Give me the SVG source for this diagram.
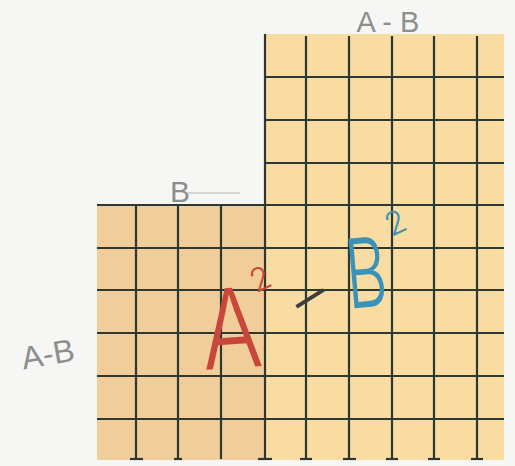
<svg xmlns="http://www.w3.org/2000/svg" width="515" height="466" viewBox="0 0 515 466">
<style>
.grid line{stroke:#2e3833;stroke-width:2.2;stroke-linecap:butt}
.pencil{font-family:"Liberation Sans",Arial,sans-serif;fill:#8c8f8e}
.hand{font-family:Inter,"Liberation Sans",sans-serif;font-weight:300}
</style>
<rect width="515" height="466" fill="#f6f6f4"/>
<g id="paper">
<path d="M97,204 H265 V34 H504 V460 H97 Z" fill="#f8dca2"/>
<rect x="97" y="204" width="168" height="256" fill="#f1ce99"/>
</g>
<g id="grid" class="grid">
<line x1="97" y1="205" x2="504" y2="205"/>
<line x1="97" y1="248" x2="504" y2="248"/>
<line x1="97" y1="290" x2="504" y2="290"/>
<line x1="97" y1="333" x2="504" y2="333"/>
<line x1="97" y1="376" x2="504" y2="376"/>
<line x1="97" y1="419" x2="504" y2="419"/>
<line x1="265" y1="77" x2="504" y2="77"/>
<line x1="265" y1="120" x2="504" y2="120"/>
<line x1="265" y1="163" x2="504" y2="163"/>
<line x1="136" y1="205" x2="136" y2="459"/>
<line x1="178" y1="205" x2="178" y2="459"/>
<line x1="221" y1="205" x2="221" y2="459"/>
<line x1="265" y1="34" x2="265" y2="459"/>
<line x1="306" y1="36" x2="306" y2="459"/>
<line x1="349" y1="36" x2="349" y2="459"/>
<line x1="392" y1="36" x2="392" y2="459"/>
<line x1="434" y1="36" x2="434" y2="459"/>
<line x1="477" y1="36" x2="477" y2="459"/>
<line x1="130" y1="459" x2="143" y2="459"/>
<line x1="174" y1="459" x2="182" y2="459"/>
<line x1="258" y1="459" x2="272" y2="459"/>
<line x1="300" y1="459" x2="312" y2="459"/>
<line x1="343" y1="459" x2="356" y2="459"/>
<line x1="386" y1="459" x2="398" y2="459"/>
<line x1="428" y1="459" x2="440" y2="459"/>
<line x1="471" y1="459" x2="483" y2="459"/>
</g>
<g id="labels">
<text class="pencil" x="388" y="32" font-size="29" text-anchor="middle">A - B</text>
<text class="pencil" x="180" y="202" font-size="30" text-anchor="middle">B</text>
<line x1="188" y1="193" x2="240" y2="193" stroke="#b5b5b5" stroke-width="1.2"/>
<text class="pencil" x="48" y="365" font-size="32" text-anchor="middle" transform="rotate(-10 48 355)">A-B</text>
</g>
<g id="formula">
<text class="hand" x="0" y="0" font-size="110" fill="#c8473a" text-anchor="middle" transform="translate(234 368) rotate(-4) scale(0.82 1)">A</text>
<text class="hand" x="261" y="290" font-size="32" fill="#c8473a" text-anchor="middle" transform="rotate(-25 261 280)">2</text>
<text class="hand" x="311" y="318" font-size="64" fill="#3a3f3a" text-anchor="middle" transform="rotate(-32 311 300)">–</text>
<text class="hand" x="0" y="0" font-size="96" fill="#3b92b8" text-anchor="middle" transform="translate(369 307) rotate(-5) scale(0.66 1)">B</text>
<text class="hand" x="395" y="234" font-size="32" fill="#3b92b8" text-anchor="middle" transform="rotate(-25 395 222)">2</text>
</g>
</svg>
